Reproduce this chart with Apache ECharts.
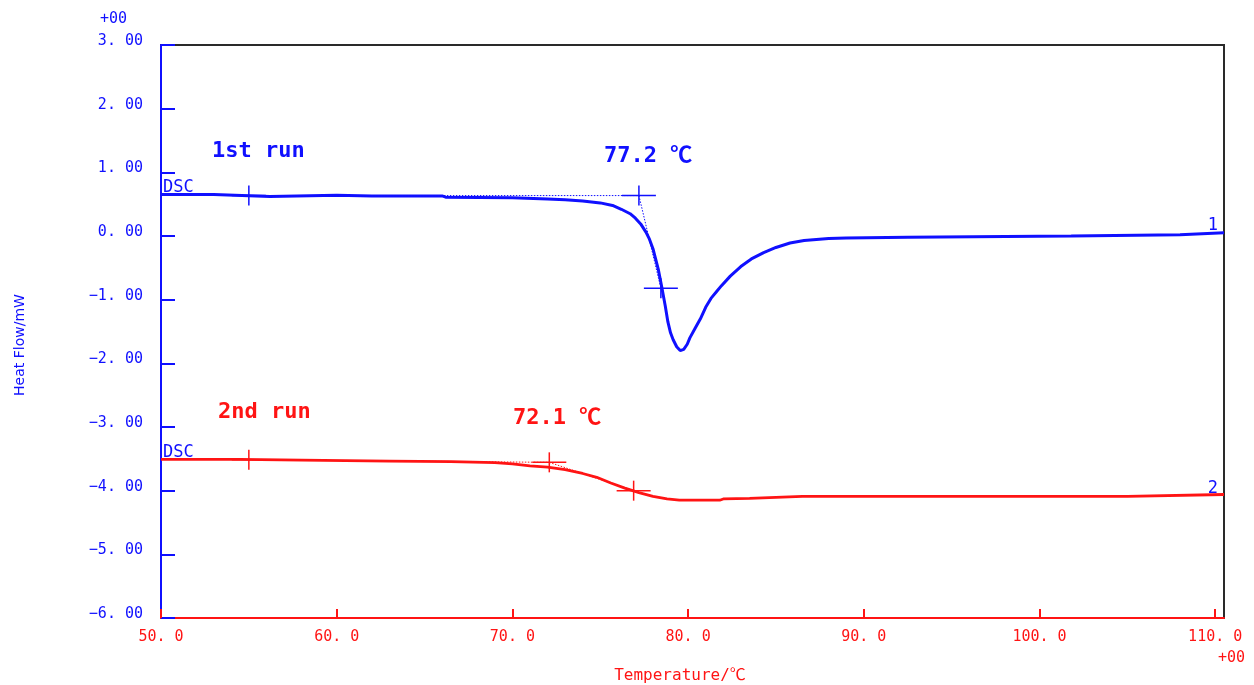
<!DOCTYPE html>
<html>
<head>
<meta charset="utf-8">
<title>DSC</title>
<script src="https://cdn.jsdelivr.net/npm/echarts@6/dist/echarts.min.js"></script>
<style>
  html, body { margin: 0; padding: 0; background: #fff; }
  #chart { width: 1254px; height: 685px; }
</style>
</head>
<body>
<div id="chart"></div>
<script>
// Tick values
const xTicks = [50, 60, 70, 80, 90, 100, 110];
const yTicks = [3, 2, 1, 0, -1, -2, -3, -4, -5, -6];

// 1st run heat flow [temperature °C, mW]
const run1 = [
  [50.0, 0.65], [53.0, 0.65], [53.1, 0.62], [56.2, 0.62], [56.3, 0.64], [60.0, 0.64],
  [62.0, 0.63], [66.0, 0.63], [66.2, 0.61], [70.0, 0.60], [72.0, 0.58], [73.0, 0.57],
  [74.0, 0.55], [75.0, 0.52], [75.7, 0.48], [76.2, 0.42], [76.7, 0.35], [77.0, 0.28],
  [77.3, 0.19], [77.6, 0.06], [77.8, -0.05], [78.0, -0.20], [78.15, -0.36], [78.3, -0.52],
  [78.5, -0.80], [78.7, -1.10], [78.85, -1.35], [79.0, -1.52], [79.15, -1.63], [79.35, -1.74],
  [79.55, -1.80], [79.75, -1.78], [79.95, -1.70], [80.1, -1.60], [80.4, -1.45], [80.7, -1.30],
  [81.0, -1.12], [81.3, -0.98], [81.6, -0.88], [81.9, -0.78], [82.4, -0.63], [83.0, -0.48],
  [83.6, -0.36], [84.3, -0.26], [85.0, -0.18], [85.8, -0.11], [86.6, -0.07], [88.0, -0.04],
  [89.0, -0.03], [92.5, -0.02], [92.6, 0.0], [101.8, 0.0], [101.9, 0.02], [108.0, 0.02],
  [108.1, 0.05], [110.5, 0.05]
];

// 2nd run heat flow [temperature °C, mW]
const run2 = [
  [50.0, -3.51], [54.5, -3.51], [54.6, -3.52], [58.0, -3.52], [58.1, -3.535], [63.0, -3.535],
  [63.1, -3.545], [66.5, -3.545], [66.6, -3.555], [69.0, -3.56], [70.0, -3.58], [71.0, -3.61],
  [72.0, -3.63], [73.0, -3.67], [74.0, -3.73], [74.8, -3.79], [75.6, -3.88], [76.4, -3.96],
  [77.2, -4.03], [78.0, -4.09], [78.8, -4.13], [79.5, -4.15], [81.8, -4.15], [82.0, -4.13],
  [83.5, -4.12], [83.6, -4.10], [86.5, -4.09], [105.0, -4.09], [105.1, -4.06], [110.5, -4.06]
];

// Analysis points: baseline start, onset, tangent point
const run1Start = [55.0, 0.635];
const run1Onset = [77.2, 0.635];
const run1Tangent = [78.45, -0.82];
const run2Start = [55.0, -3.515];
const run2Onset = [72.1, -3.555];
const run2Tangent = [76.9, -4.0];

const BLUE = '#1010ff';
const RED = '#ff1414';
const MONO = '"DejaVu Sans Mono", "Noto Sans CJK JP", monospace';

function crossSeries(points, color) {
  return {
    type: 'custom',
    data: points,
    z: 5,
    renderItem: function (params, api) {
      const p = api.coord([api.value(0), api.value(1)]);
      return {
        type: 'group',
        children: [
          { type: 'line', shape: { x1: p[0] - 17, y1: p[1], x2: p[0] + 17, y2: p[1] },
            style: { stroke: color, lineWidth: 1.5 } },
          { type: 'line', shape: { x1: p[0], y1: p[1] - 10, x2: p[0], y2: p[1] + 10 },
            style: { stroke: color, lineWidth: 1.5 } }
        ]
      };
    }
  };
}

function dotted(points, color) {
  return {
    type: 'line', data: points, symbol: 'none', z: 4,
    lineStyle: { color: color, width: 1, type: [1.5, 1.5] }
  };
}

function txt(text, x, y, color, font, align, rotation) {
  return {
    type: 'text', x: x, y: y, rotation: rotation || 0, z: 100,
    style: { text: text, fill: color, font: font, textAlign: align || 'left', textVerticalAlign: 'middle' }
  };
}

const chart = echarts.init(document.getElementById('chart'), null, { renderer: 'canvas' });

chart.setOption({
  animation: false,
  backgroundColor: '#fff',
  grid: { left: 161, right: 30, top: 45, bottom: 67, show: true, borderColor: '#2a2a2a', borderWidth: 2 },
  xAxis: {
    type: 'value', min: 50, max: 110.5, interval: 10,
    axisLine: { show: true, onZero: false, lineStyle: { color: RED, width: 2 } },
    axisTick: { show: true, inside: true, length: 9, customValues: xTicks, lineStyle: { color: RED, width: 2 } },
    axisLabel: {
      customValues: xTicks, color: RED, fontFamily: MONO, fontSize: 15, margin: 12,
      formatter: v => v.toFixed(1).replace('.', '. ')
    },
    splitLine: { show: false }
  },
  yAxis: {
    type: 'value', min: -6, max: 3, interval: 1,
    axisLine: { show: true, onZero: false, lineStyle: { color: BLUE, width: 2 } },
    axisTick: { show: true, inside: true, length: 14, customValues: yTicks, lineStyle: { color: BLUE, width: 2 } },
    axisLabel: {
      customValues: yTicks, color: BLUE, fontFamily: MONO, fontSize: 15, margin: 18,
      verticalAlign: 'bottom', lineHeight: 8,
      formatter: v => v.toFixed(2).replace('-', '\u2212').replace('.', '. ')
    },
    splitLine: { show: false }
  },
  series: [
    { type: 'line', data: run1, symbol: 'none', z: 3, lineStyle: { color: BLUE, width: 3 } },
    { type: 'line', data: run2, symbol: 'none', z: 3, lineStyle: { color: RED, width: 2.8 } },
    dotted([run1Start, run1Onset], BLUE),
    dotted([run1Onset, run1Tangent], BLUE),
    dotted([run2Start, run2Onset], RED),
    dotted([run2Onset, run2Tangent], RED),
    crossSeries([run1Start, run1Onset, run1Tangent], BLUE),
    crossSeries([run2Start, run2Onset, run2Tangent], RED)
  ],
  graphic: [
    txt('+00', 100, 19, BLUE, '15px ' + MONO),
    txt('+00', 1218, 658, RED, '15px ' + MONO),
    txt('Temperature/\u2103', 680, 676, RED, '16px ' + MONO, 'center'),
    txt('Heat Flow/mW', 20, 345, BLUE, '14px "DejaVu Sans", sans-serif', 'center', Math.PI / 2),
    txt('1st run', 212, 151, BLUE, 'bold 22px ' + MONO),
    txt(run1Onset[0].toFixed(1) + ' \u2103', 604, 156, BLUE, 'bold 22px ' + MONO),
    txt('2nd run', 218, 412, RED, 'bold 22px ' + MONO),
    txt(run2Onset[0].toFixed(1) + ' \u2103', 513, 418, RED, 'bold 22px ' + MONO),
    txt('DSC', 163, 188, BLUE, '17px ' + MONO),
    txt('DSC', 163, 453, BLUE, '17px ' + MONO),
    txt('1', 1218, 226, BLUE, '17px ' + MONO, 'right'),
    txt('2', 1218, 489, BLUE, '17px ' + MONO, 'right')
  ]
});
</script>
</body>
</html>
